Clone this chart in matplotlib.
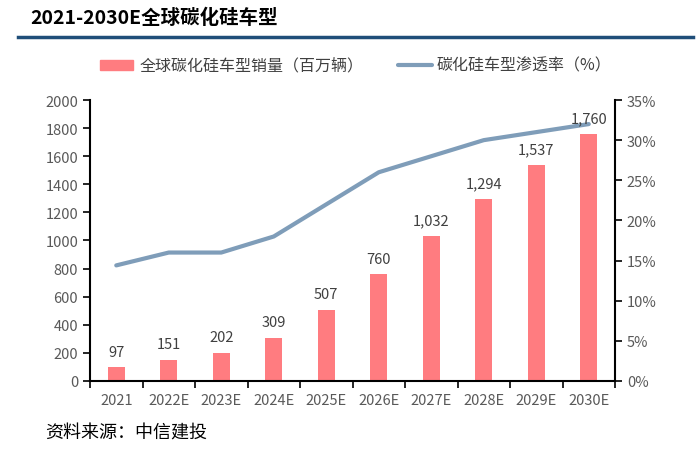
import matplotlib.pyplot as plt
import numpy as np

plt.rcParams['font.family'] = ['Noto Sans CJK SC', 'DejaVu Sans']

years = ["2021", "2022E", "2023E", "2024E", "2025E", "2026E", "2027E", "2028E", "2029E", "2030E"]
sales = [97, 151, 202, 309, 507, 760, 1032, 1294, 1537, 1760]
rate = [14.4, 16, 16, 18, 22, 26, 28, 30, 31, 32]

bar_c = "#FF7C80"
line_c = "#7F9DB9"
txt_c = "#595959"

fig = plt.figure(figsize=(7, 4.56), dpi=100)
ax = fig.add_axes([0.1286, 0.1623, 0.75, 0.6162])
ax2 = ax.twinx()

x = np.arange(len(years))
ax.bar(x, sales, width=0.33, color=bar_c, zorder=2)
for xi, v in zip(x, sales):
    ax.text(xi, v + 60, f"{v:,}", ha="center", va="bottom", fontsize=10.5, color="#404040")

ax2.plot(x, np.array(rate) / 100, color=line_c, lw=3, solid_capstyle="round", zorder=3)
ax.set_zorder(ax2.get_zorder() + 1)
ax.patch.set_visible(False)

ax.set_xlim(-0.5, len(years) - 0.5)
ax.set_ylim(0, 2000)
ax.set_yticks(range(0, 2001, 200))
ax2.set_ylim(0, 0.35)
ax2.set_yticks(np.arange(0, 0.351, 0.05))
ax2.set_yticklabels([f"{int(round(t*100))}%" for t in np.arange(0, 0.351, 0.05)])

ax.set_xticks(x)
ax.set_xticklabels(years)
ax.set_xticks(np.arange(-0.5, len(years), 1), minor=True)
ax.tick_params(axis="x", which="major", length=0, pad=9, labelsize=10.5, labelcolor=txt_c)
ax.tick_params(axis="x", which="minor", length=5, width=1.2, direction="out")
ax.tick_params(axis="y", length=5, width=1.2, labelsize=10.5, labelcolor=txt_c)
ax2.tick_params(axis="y", length=5, width=1.2, labelsize=10.5, labelcolor=txt_c)

for a in (ax, ax2):
    a.spines["top"].set_visible(False)
    for s in ("left", "right", "bottom"):
        a.spines[s].set_linewidth(1.5)
ax.spines["right"].set_visible(False)
ax2.spines["left"].set_visible(False)
ax2.spines["bottom"].set_visible(False)

# title and rule
fig.text(0.043, 0.96, "2021-2030E全球碳化硅车型", fontsize=14, fontweight="bold",
         va="center", ha="left", color="black")
fig.add_artist(plt.Line2D([0.026, 0.99], [0.916, 0.916], color="#1F4E79", lw=2.5))

# legend
fig.patches.append(plt.Rectangle((0.143, 0.845), 0.047, 0.022, color=bar_c,
                                 transform=fig.transFigure, figure=fig))
fig.text(0.2, 0.856, "全球碳化硅车型销量（百万辆）", fontsize=11.5, va="center", color="#404040")
fig.add_artist(plt.Line2D([0.568, 0.617], [0.856, 0.856], color=line_c, lw=3,
                          solid_capstyle="round"))
fig.text(0.623, 0.856, "碳化硅车型渗透率（%）", fontsize=11.5, va="center", color="#404040")

fig.text(0.064, 0.05, "资料来源：中信建投", fontsize=13, style="italic",
         va="center", color="black")

fig.savefig("out.png", dpi=100)
